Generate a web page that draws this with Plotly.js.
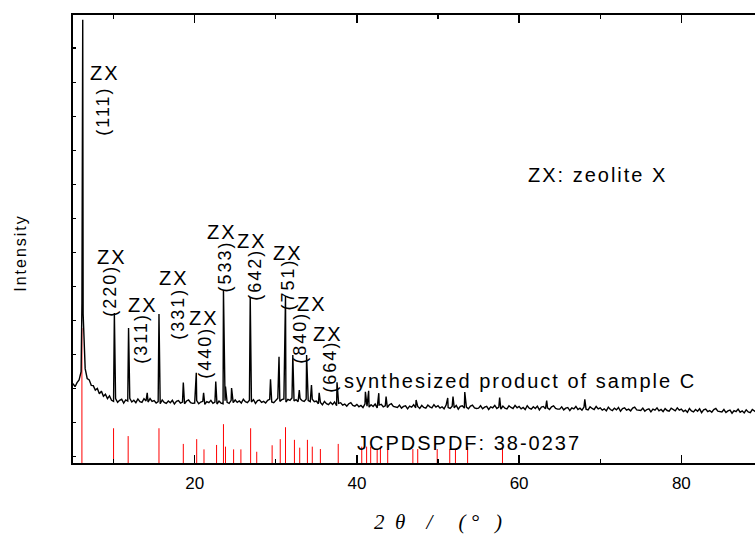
<!DOCTYPE html>
<html><head><meta charset="utf-8">
<script src="https://cdn.plot.ly/plotly-3.0.1.min.js"></script>
<style>
html,body{margin:0;padding:0;overflow:hidden;background:#fff;}
#chart{width:813px;height:534px;}
text.annotation-text{letter-spacing:2px;}
text.ytitle{letter-spacing:2px;}
</style></head><body><div id="chart"></div>
<script>
// ---- DATA ----
// measured pattern: baseline sampled every 0.25 deg starting at 5 deg
const scanStart = 5;
const scanStep = 0.25;
const baseline = [
21.5,20.6,21.8,22.6,25.0,42.0,25.9,23.0,22.6,21.0,20.9,19.6,20.1,18.5,19.3,17.8,18.4,17.1,17.9,16.6,
16.3,17.1,16.0,16.6,16.9,15.8,16.7,16.4,17.2,16.1,16.6,15.9,17.0,16.2,16.0,17.1,16.4,16.1,17.1,16.3,
16.5,15.8,16.2,15.6,16.7,16.0,15.7,16.4,15.9,16.6,15.5,16.3,16.5,15.8,16.1,15.6,16.4,16.7,15.9,15.7,
15.8,16.5,15.6,16.1,16.3,15.4,16.2,15.9,16.6,15.7,16.1,15.5,16.4,15.8,15.6,16.5,16.0,15.7,16.6,15.9,
16.7,16.0,16.4,15.8,16.9,16.2,15.9,16.6,16.1,16.8,15.7,16.5,16.7,16.0,16.3,15.8,16.6,16.9,16.1,15.9,
16.5,17.2,16.3,16.8,17.0,16.1,16.9,16.6,17.3,16.4,16.8,16.2,17.1,16.5,16.3,17.0,16.5,16.2,16.9,16.2,
16.4,15.6,16.0,15.3,16.3,15.6,15.3,16.0,15.4,16.1,15.0,15.7,15.9,15.2,15.5,14.9,15.6,15.9,15.1,14.9,
15.4,14.7,15.1,14.5,15.6,14.9,14.6,15.3,14.8,15.5,14.4,15.2,15.4,14.7,15.0,14.5,15.3,15.6,14.8,14.6,
14.5,15.2,14.3,14.8,15.0,14.1,14.9,14.6,15.3,14.4,14.8,14.2,15.1,14.5,14.3,15.2,14.7,14.4,15.3,14.6,
15.0,14.3,14.7,14.1,15.2,14.5,14.2,14.9,14.4,15.1,14.0,14.8,15.0,14.3,14.6,14.1,14.9,15.2,14.4,14.2,
14.3,15.0,14.1,14.6,14.8,13.9,14.7,14.4,15.1,14.2,14.6,14.0,14.9,14.3,14.1,15.0,14.5,14.2,15.1,14.4,
14.8,14.1,14.5,13.9,15.0,14.3,14.0,14.7,14.2,14.9,13.8,14.6,14.8,14.1,14.4,13.9,14.7,15.0,14.2,14.0,
14.0,14.7,13.8,14.3,14.5,13.6,14.4,14.1,14.8,13.9,14.3,13.7,14.6,14.0,13.8,14.7,14.2,13.9,14.8,14.1,
14.4,13.7,14.1,13.5,14.6,13.9,13.6,14.3,13.8,14.5,13.4,14.2,14.4,13.7,14.0,13.5,14.3,14.6,13.8,13.6,
13.6,14.3,13.4,13.9,14.1,13.2,14.0,13.7,14.4,13.5,13.9,13.3,14.2,13.6,13.4,14.3,13.8,13.5,14.4,13.7,
14.0,13.3,13.7,13.1,14.2,13.5,13.2,13.9,13.4,14.1,13.0,13.8,14.0,13.3,13.6,13.1,13.9,14.2,13.4,13.2,
13.2,13.9,13.0,13.5,13.7,12.8,13.6,13.3,14.0,13.1,13.5,12.9,13.8,13.2,13.0,13.9,13.4,13.1,14.0,13.3,
13.3
];
// diffraction peaks of the measured pattern (2theta, intensity at apex)
const peakPos = [6.1, 6.2, 10.1, 11.85, 14.15, 15.6, 18.6, 20.2, 21.1, 22.6, 23.55, 23.8, 24.55, 26.85,
  29.35, 30.4, 31.2, 32.1, 32.9, 33.8, 34.4, 35.35, 37.55, 41.05, 41.45, 42.7, 43.6, 47.3, 51.2, 51.85,
  53.3, 57.6, 63.4, 68.1];
const peakHeight = [45, 128.3, 42.2, 37.8, 18.8, 41.9, 21.8, 24.7, 18.8, 22.1, 49.0, 20.6, 20.2, 46.9,
  22.8, 29.4, 47.2, 29.9, 19.6, 29.9, 21.1, 18.8, 21.9, 19.1, 19.4, 18.7, 17.7, 16.7, 17.3, 17.7,
  19.0, 17.4, 16.5, 16.9];
// JCPDS PDF 38-0237 reference lines
const refPos = [6.1, 10.0, 11.8, 15.6, 18.6, 20.25, 21.15, 22.7, 23.55, 23.8, 24.8, 25.7, 26.9, 27.65,
  29.55, 30.55, 31.2, 32.3, 32.95, 33.9, 34.5, 35.5, 37.7, 40.6, 41.2, 41.7, 42.5, 42.9, 43.8, 46.9,
  47.5, 49.9, 51.45, 52.15, 53.65, 57.95];
const refHeight = [37.8, 8.4, 6.1, 8.4, 3.8, 5.2, 2.2, 3.5, 9.6, 3.0, 2.2, 2.2, 8.4, 1.5,
  3.4, 5.2, 8.7, 5.0, 2.7, 5.0, 3.0, 2.3, 3.8, 3.0, 3.0, 3.0, 2.3, 3.0, 2.3, 2.3,
  2.3, 2.3, 2.3, 2.3, 3.0, 2.6];
// texts
const phaseTag = 'ZX';
const hklLabels = ['(111)', '(220)', '(311)', '(331)', '(440)', '(533)', '(642)', '(751)', '(840)', '(664)'];
const phaseLegend = 'ZX: zeolite X';
const sampleName = 'synthesized product of sample C';
const refName = 'JCPDSPDF: 38-0237';
const xTickVals = [20, 40, 60, 80];
const xTickText = ['20', '40', '60', '80'];
const xTitle = '<i>2\u00a0\u00a0\u03b8\u00a0\u00a0\u00a0\u00a0/\u00a0\u00a0\u00a0\u00a0\u00a0(\u00a0\u00b0\u00a0\u00a0\u00a0)</i>';
const yTitle = 'Intensity\u2800\u2800';

// ---- BUILD ----
const xRange = [5, 95];
const yRange = [-1.8, 129.7];

const pts = baseline.map((v, i) => [scanStart + scanStep * i, v]);
peakPos.forEach((p, i) => pts.push([p, peakHeight[i]]));
pts.sort((a, b) => a[0] - b[0]);

const refX = [], refY = [];
refPos.forEach((p, i) => { refX.push(p, p, null); refY.push(yRange[0], refHeight[i], null); });

const FONT = 'Liberation Sans, Arial, sans-serif';

// label layout (positions in data units)
const tagXY = [[8.9,112.7],[9.77,58.7],[13.59,44.7],[17.42,52.5],[21.12,40.8],[23.34,66.0],[27.04,63.4],[31.47,59.9],[34.43,44.9],[36.41,36.1]];
const hklXY = [[8.66,101.5],[9.53,48.7],[13.35,34.9],[17.91,41.9],[21.24,30.5],[23.71,55.8],[27.41,53.4],[31.47,50.5],[32.95,34.9],[36.65,26.4]];

const annotations = [];
tagXY.forEach(p => annotations.push({x:p[0], y:p[1], xref:'x', yref:'y', text:phaseTag, showarrow:false,
  font:{family:FONT, size:20, color:'#000'}, xanchor:'center', yanchor:'middle'}));
hklXY.forEach((p, i) => annotations.push({x:p[0], y:p[1], xref:'x', yref:'y', text:hklLabels[i], showarrow:false,
  textangle:-90, font:{family:FONT, size:18, color:'#000'}, xanchor:'center', yanchor:'middle'}));
annotations.push({x:60.85, y:82.8, xref:'x', yref:'y', text:phaseLegend, showarrow:false,
  font:{family:FONT, size:20, color:'#000'}, xanchor:'left', yanchor:'middle'});
annotations.push({x:38.2, y:22.4, xref:'x', yref:'y', text:sampleName, showarrow:false,
  font:{family:FONT, size:20, color:'#000'}, xanchor:'left', yanchor:'middle'});
annotations.push({x:39.8, y:4.2, xref:'x', yref:'y', text:refName, showarrow:false,
  font:{family:FONT, size:20, color:'#000'}, xanchor:'left', yanchor:'middle'});

const traces = [
  {x:refX, y:refY, type:'scatter', mode:'lines', line:{color:'#ff0000', width:1}, hoverinfo:'skip', showlegend:false},
  {x:pts.map(p => p[0]), y:pts.map(p => p[1]), type:'scatter', mode:'lines', line:{color:'#000', width:1.4}, showlegend:false}
];

const layout = {
  width:813, height:534,
  margin:{l:73, r:10, t:15, b:71},
  paper_bgcolor:'#fff', plot_bgcolor:'#fff',
  showlegend:false,
  font:{family:FONT, color:'#000'},
  xaxis:{range:xRange, tickmode:'array', tickvals:xTickVals, ticktext:xTickText,
    ticks:'inside', ticklen:8, tickwidth:1.5, tickcolor:'#000', ticklabelstandoff:4,
    minor:{tickmode:'linear', tick0:0, dtick:10, ticks:'inside', ticklen:4, tickwidth:1.2, tickcolor:'#000'},
    showline:true, linewidth:2, linecolor:'#000', mirror:'ticks', showgrid:false, zeroline:false,
    tickfont:{family:FONT, size:17, color:'#000'},
    title:{text:xTitle, font:{family:'Liberation Serif, serif', size:21, color:'#000'}, standoff:24}},
  yaxis:{range:yRange, tickmode:'linear', tick0:0, dtick:10,
    ticks:'inside', ticklen:3, tickwidth:1.2, tickcolor:'#000', showticklabels:false,
    showline:true, linewidth:2, linecolor:'#000', mirror:'ticks', showgrid:false, zeroline:false,
    title:{text:yTitle, font:{family:FONT, size:16, color:'#000'}, standoff:40}},
  annotations:annotations
};

Plotly.newPlot('chart', traces, layout, {displayModeBar:false, staticPlot:true});
</script></body></html>
